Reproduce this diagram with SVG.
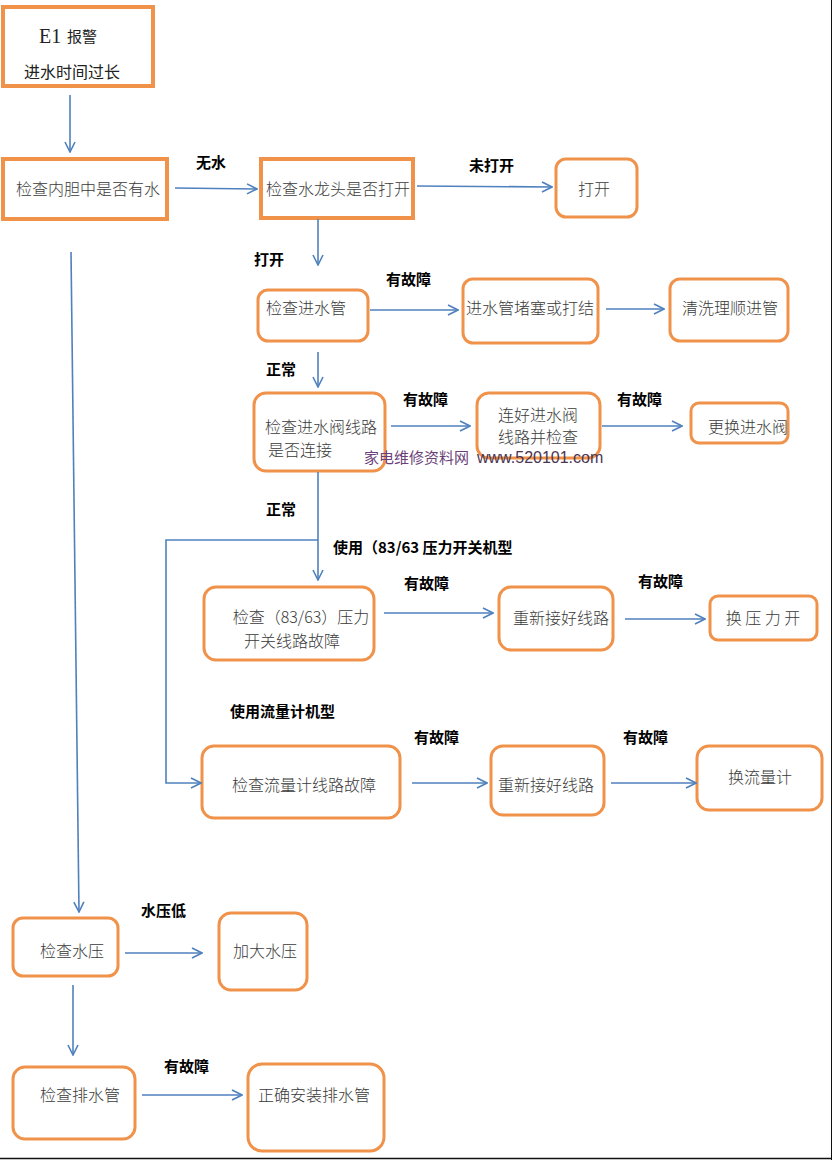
<svg xmlns="http://www.w3.org/2000/svg" width="832" height="1160" viewBox="0 0 832 1160">
<defs>
<marker id="ah" viewBox="0 0 12 12" refX="11" refY="6" markerWidth="12" markerHeight="12" markerUnits="userSpaceOnUse" orient="auto">
<path d="M1,1 L11,6 L1,11" fill="none" stroke="#4F81BD" stroke-width="1.6"/>
</marker>
</defs>
<style>
.sq{fill:#fff;stroke:#F0924A;stroke-width:4}
.rd{fill:#fff;stroke:#F0924A;stroke-width:3}
.t{font-family:"Noto Sans CJK SC","Liberation Sans",sans-serif;font-size:16px;fill:#3a3a3a;text-anchor:middle;font-weight:300}
.lb{font-family:"Noto Sans CJK SC","Liberation Sans",sans-serif;font-size:15px;fill:#000;font-weight:700}
.c{fill:none;stroke:#4F81BD;stroke-width:1.6}
.ca{fill:none;stroke:#4F81BD;stroke-width:1.6;marker-end:url(#ah)}
</style>
<rect x="0" y="0" width="832" height="1160" fill="#fff"/>

<g id="n1"><rect class="sq" x="3" y="7" width="150" height="79"/>
<text x="39" y="43" font-family="Liberation Serif,serif" font-size="20" fill="#222">E1</text>
<text x="67" y="42" class="t" style="text-anchor:start;font-size:15px;fill:#222;font-weight:400">报警</text>
<text x="72" y="78" class="t" style="font-size:16px;fill:#222;font-weight:400">进水时间过长</text></g>

<g id="n2"><rect class="sq" x="3" y="159" width="164" height="60"/><text class="t" x="88" y="195">检查内胆中是否有水</text></g>
<g id="n3"><rect class="sq" x="261" y="159" width="152" height="59"/><text class="t" x="338" y="195">检查水龙头是否打开</text></g>
<g id="n4"><rect class="rd" x="556" y="159" width="81" height="58" rx="10"/><text class="t" x="594" y="195">打开</text></g>
<g id="n5"><rect class="rd" x="258" y="290" width="110" height="51" rx="10"/><text class="t" x="306" y="314">检查进水管</text></g>
<g id="n6"><rect class="rd" x="463" y="279" width="135" height="64" rx="10"/><text class="t" x="530" y="314">进水管堵塞或打结</text></g>
<g id="n7"><rect class="rd" x="670" y="279" width="118" height="62" rx="10"/><text class="t" x="730" y="314">清洗理顺进管</text></g>
<g id="n8"><rect class="rd" x="254" y="393" width="131" height="78" rx="12"/><text class="t" x="321" y="433">检查进水阀线路</text><text class="t" x="300" y="456">是否连接</text></g>
<g id="n9"><rect class="rd" x="477" y="393" width="123" height="65" rx="12"/><text class="t" x="538" y="421">连好进水阀</text><text class="t" x="538" y="443">线路并检查</text></g>
<g id="n10"><rect class="rd" x="691" y="403" width="97" height="40" rx="8"/><text class="t" x="748" y="433">更换进水阀</text></g>
<g id="n11"><rect class="rd" x="204" y="587" width="170" height="73" rx="12"/><text class="t" x="301" y="623">检查（83/63）压力</text><text class="t" x="292" y="647">开关线路故障</text></g>
<g id="n12"><rect class="rd" x="499" y="587" width="114" height="63" rx="12"/><text class="t" x="561" y="624">重新接好线路</text></g>
<g id="n13"><rect class="rd" x="710" y="596" width="107" height="44" rx="8"/><text class="t" x="763" y="624">换 压 力 开</text></g>
<g id="n14"><rect class="rd" x="202" y="746" width="198" height="72" rx="12"/><text class="t" x="304" y="791">检查流量计线路故障</text></g>
<g id="n15"><rect class="rd" x="491" y="746" width="113" height="69" rx="12"/><text class="t" x="546" y="791">重新接好线路</text></g>
<g id="n16"><rect class="rd" x="697" y="746" width="125" height="64" rx="12"/><text class="t" x="760" y="783">换流量计</text></g>
<g id="n17"><rect class="rd" x="13" y="918" width="105" height="58" rx="10"/><text class="t" x="72" y="957">检查水压</text></g>
<g id="n18"><rect class="rd" x="219" y="913" width="88" height="77" rx="12"/><text class="t" x="265" y="957">加大水压</text></g>
<g id="n19"><rect class="rd" x="13" y="1067" width="122" height="72" rx="12"/><text class="t" x="80" y="1101">检查排水管</text></g>
<g id="n20"><rect class="rd" x="248" y="1064" width="136" height="87" rx="14"/><text class="t" x="314" y="1101">正确安装排水管</text></g>

<g id="connectors">
<line class="ca" x1="70" y1="95" x2="70" y2="152"/>
<line class="ca" x1="175" y1="188" x2="257" y2="189"/>
<line class="ca" x1="417" y1="186" x2="552" y2="187"/>
<line class="ca" x1="318" y1="219" x2="318" y2="265"/>
<line class="ca" x1="370" y1="310" x2="458" y2="310"/>
<line class="ca" x1="606" y1="309" x2="664" y2="309"/>
<line class="ca" x1="318" y1="352" x2="318" y2="387"/>
<line class="ca" x1="391" y1="426" x2="470" y2="426"/>
<line class="ca" x1="602" y1="426" x2="682" y2="426"/>
<line class="ca" x1="318" y1="472" x2="318" y2="580"/>
<polyline class="ca" points="318,540 166,540 166,783 201,783"/>
<line class="ca" x1="384" y1="613" x2="493" y2="613"/>
<line class="ca" x1="625" y1="619" x2="705" y2="619"/>
<line class="ca" x1="412" y1="783" x2="487" y2="783"/>
<line class="ca" x1="611" y1="783" x2="696" y2="783"/>
<line class="ca" x1="71" y1="252" x2="79" y2="912"/>
<line class="ca" x1="125" y1="953" x2="202" y2="953"/>
<line class="ca" x1="73" y1="985" x2="73" y2="1055"/>
<line class="ca" x1="142" y1="1095" x2="242" y2="1095"/>
</g>

<g id="labels">
<text class="lb" x="196" y="168">无水</text>
<text class="lb" x="469" y="171">未打开</text>
<text class="lb" x="254" y="265">打开</text>
<text class="lb" x="386" y="285">有故障</text>
<text class="lb" x="266" y="375">正常</text>
<text class="lb" x="403" y="405">有故障</text>
<text class="lb" x="617" y="405">有故障</text>
<text class="lb" x="266" y="515">正常</text>
<text class="lb" x="333" y="553">使用（83/63 压力开关机型</text>
<text class="lb" x="404" y="589">有故障</text>
<text class="lb" x="638" y="587">有故障</text>
<text class="lb" x="230" y="717">使用流量计机型</text>
<text class="lb" x="414" y="743">有故障</text>
<text class="lb" x="623" y="743">有故障</text>
<text class="lb" x="141" y="916">水压低</text>
<text class="lb" x="164" y="1072">有故障</text>
</g>

<text x="364" y="463" font-family="Noto Sans CJK SC,Liberation Sans,sans-serif" font-size="15" fill="#6b3f7a">家电维修资料网</text>
<text x="477" y="463" font-family="Liberation Sans,sans-serif" font-size="16" fill="#4a3552">www.520101.com</text>

<line x1="831.5" y1="0" x2="831.5" y2="1160" stroke="#111" stroke-width="1"/>
<line x1="0" y1="1158.5" x2="832" y2="1158.5" stroke="#111" stroke-width="1.5"/>
</svg>
